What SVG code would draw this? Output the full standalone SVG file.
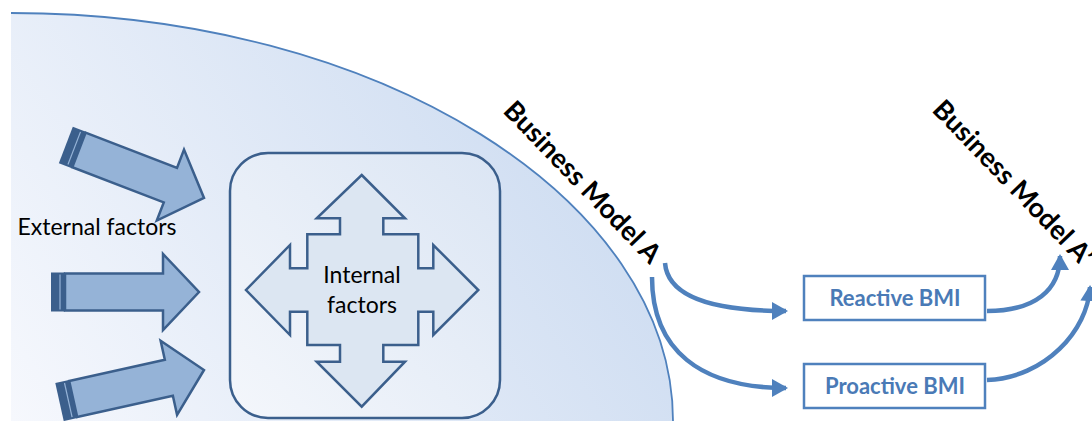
<svg xmlns="http://www.w3.org/2000/svg" width="1092" height="421" viewBox="0 0 1092 421">
<defs>
<linearGradient id="bg" gradientUnits="userSpaceOnUse" x1="11" y1="421" x2="560" y2="60">
<stop offset="0" stop-color="#f6f8fd"/>
<stop offset="1" stop-color="#cddcf1"/>
</linearGradient>
<linearGradient id="boxg" gradientUnits="userSpaceOnUse" x1="240" y1="410" x2="490" y2="160">
<stop offset="0" stop-color="#f3f6fb"/>
<stop offset="1" stop-color="#dce6f4"/>
</linearGradient>
<marker id="ah" viewBox="0 0 16 18" refX="14" refY="9" markerWidth="16" markerHeight="18" markerUnits="userSpaceOnUse" orient="auto">
<path d="M0,0 L16,9 L0,18 Z" fill="#4f81bd"/>
</marker>
<g id="blockArrow">
<path d="M-134,-18.5 L-36,-18.5 L-36,-38 L0,0 L-36,38 L-36,18.5 L-134,18.5 Z" fill="#95b3d7" stroke="#3b5f8c" stroke-width="2.5" stroke-linejoin="miter"/>
<rect x="-148" y="-19.5" width="14" height="39" fill="#3b5f8c"/>
<rect x="-139.6" y="-17.5" width="1.2" height="35" fill="#95b3d7"/>
</g>
</defs>
<style>
.t{font-family:Lato,"Liberation Sans",sans-serif;fill:#000}
.bmi{font-family:Lato,"Liberation Sans",sans-serif;font-weight:bold;font-size:22px;fill:#4a7ab6;text-anchor:middle}
.bm{font-family:Lato,"Liberation Sans",sans-serif;font-weight:bold;font-size:27px;fill:#000}
.box{fill:#fff;stroke:#4f81bd;stroke-width:2.5}
.conn{fill:none;stroke:#4f81bd;stroke-width:4.5;marker-end:url(#ah)}
</style>

<g id="background">
<path d="M11,13 C380,13 673,200 673,421 L11,421 Z" fill="url(#bg)"/>
<path d="M11,13 C380,13 673,200 673,421" fill="none" stroke="#4f81bd" stroke-width="1.8"/>
</g>

<g id="external-factors">
<use href="#blockArrow" transform="translate(204,198) rotate(21)"/>
<use href="#blockArrow" transform="translate(199,292)"/>
<use href="#blockArrow" transform="translate(204,370) rotate(-12.5)"/>
<text class="t" x="97" y="235" font-size="23" text-anchor="middle">External factors</text>
</g>

<g id="internal-factors">
<rect x="230" y="153" width="270" height="265" rx="38" ry="38" fill="url(#boxg)" stroke="#3b5f8c" stroke-width="2.5"/>
<path d="M361.7,175 L405,218.3 L383.3,218.3 L383.3,234.3 L418.3,234.3 L418.3,268.3 L433.3,268.3 L433.3,245 L478.3,290 L433.3,335 L433.3,311.7 L418.3,311.7 L418.3,345 L383.3,345 L383.3,361.7 L405,361.7 L361.7,406.7 L316.7,361.7 L340,361.7 L340,345 L307.3,345 L307.3,311.7 L290,311.7 L290,335 L246,290 L290,245 L290,268.3 L307.3,268.3 L307.3,234.3 L340,234.3 L340,218.3 L316.7,218.3 Z" fill="#dce6f2" stroke="#3b5f8c" stroke-width="2.5" stroke-linejoin="miter"/>
<text class="t" x="362" y="283" font-size="23" text-anchor="middle">Internal</text>
<text class="t" x="362" y="313" font-size="23" text-anchor="middle">factors</text>
</g>

<g id="business-model-a">
<text class="bm" transform="translate(502,112) rotate(46)">Business Model A</text>
</g>

<g id="reactive-bmi">
<rect class="box" x="804" y="276" width="181" height="44"/>
<text class="bmi" x="895" y="306">Reactive BMI</text>
</g>

<g id="proactive-bmi">
<rect class="box" x="804" y="364" width="181" height="44"/>
<text class="bmi" x="895" y="394">Proactive BMI</text>
</g>

<g id="business-model-a-prime">
<text class="bm" transform="translate(931,111) rotate(46)">Business Model A’</text>
</g>

<g id="connectors">
<path class="conn" d="M665,263 C668,300 720,311 786,311"/>
<path class="conn" d="M652,277 C652,350 700,388 786,388"/>
<path class="conn" d="M987,311 C1035,311 1060,290 1060,256"/>
<path class="conn" d="M987,380 C1045,378 1088,330 1090,287"/>
</g>
</svg>
